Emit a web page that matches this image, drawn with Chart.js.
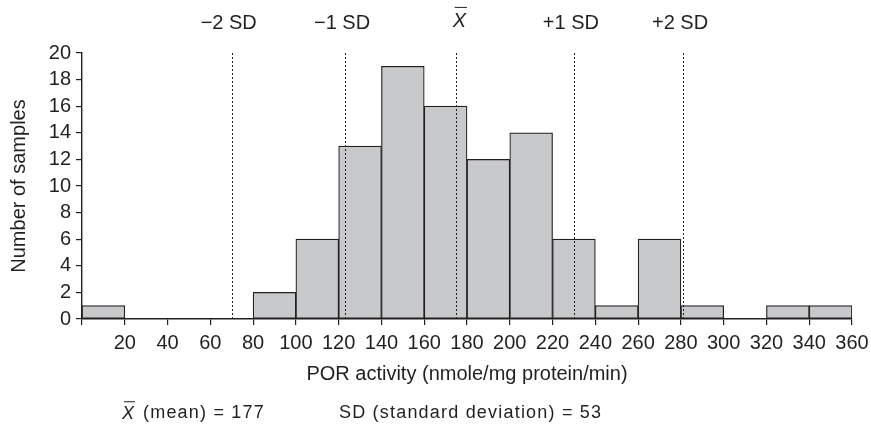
<!DOCTYPE html>
<html>
<head>
<meta charset="utf-8">
<script src="https://cdn.jsdelivr.net/npm/chart.js@4.4.1/dist/chart.umd.min.js"></script>
<style>
  html, body { margin: 0; padding: 0; background: #fff; overflow: hidden; }
  #wrap { width: 871px; height: 426px; position: relative; }
</style>
</head>
<body>
<div id="wrap"><canvas id="histo"></canvas></div>
<script>
// --- DONNEES ---
const binStarts = [0, 20, 40, 60, 80, 100, 120, 140, 160, 180, 200, 220, 240, 260, 280, 300, 320, 340];
const counts    = [1, 0, 0, 0, 2, 6, 13, 19, 16, 12, 14, 6, 1, 6, 1, 0, 1, 1];
const BIN_WIDTH = 20;
const sdValues  = [70, 123, 175, 230, 281];
const sdLabels  = ['\u22122 SD', '\u22121 SD', 'X', '+1 SD', '+2 SD'];
const MEAN = 177;
const SD = 53;

const INK = '#231f20';
const FONT = '"Liberation Sans", Arial, Helvetica, sans-serif';

// X barre (italique + trait au dessus)
function drawXbar(ctx, x, y, size, align) {
    ctx.font = 'italic ' + size + 'px ' + FONT;
    ctx.textAlign = align; ctx.textBaseline = 'middle';
    ctx.fillText('X', x, y);
    const w = ctx.measureText('X').width;
    const left = align === 'center' ? x - w / 2 : x;
    ctx.beginPath();
    ctx.lineWidth = 1;
    ctx.moveTo(left + 2, y - size * 0.68);
    ctx.lineTo(left + w + 1, y - size * 0.68);
    ctx.stroke();
    return w;
}

const sdPlugin = {
    id: 'sdLines',
    afterDatasetsDraw(chart) {
        const { ctx, chartArea, scales: { x, y } } = chart;
        ctx.save();
        ctx.strokeStyle = INK; ctx.fillStyle = INK;
        ctx.lineWidth = 1;
        ctx.setLineDash([2, 2]);
        sdValues.forEach(v => {
            const px = Math.round(x.getPixelForValue(v)) + 0.5;
            ctx.beginPath();
            ctx.moveTo(px, chartArea.top);
            ctx.lineTo(px, y.getPixelForValue(0));
            ctx.stroke();
        });
        ctx.setLineDash([]);

        // étiquettes du haut
        sdValues.forEach((v, i) => {
            const px = x.getPixelForValue(v);
            if (sdLabels[i] === 'X') {
                drawXbar(ctx, px + 3, 21, 20, 'center');
            } else {
                ctx.font = '20px ' + FONT;
                ctx.textAlign = 'center'; ctx.textBaseline = 'middle';
                ctx.fillText(sdLabels[i], px - 3, 23);
            }
        });

        // légende du bas
        drawXbar(ctx, 122, 414, 18, 'left');
        ctx.font = '18px ' + FONT;
        ctx.letterSpacing = '1.2px';
        ctx.textAlign = 'left'; ctx.textBaseline = 'middle';
        ctx.fillText('(mean) = ' + MEAN, 143, 413);
        ctx.fillText('SD (standard deviation) = ' + SD, 339, 413);
        ctx.letterSpacing = '0px';
        ctx.restore();
    }
};

const ctx = document.getElementById('histo').getContext('2d');
new Chart(ctx, {
    type: 'bar',
    data: {
        datasets: [{
            data: binStarts.map((s, i) => ({ x: s + BIN_WIDTH / 2, y: counts[i] })),
            backgroundColor: '#c8c9cb',
            borderColor: INK,
            borderWidth: 1.2,
            borderSkipped: false,
            barPercentage: 1,
            categoryPercentage: 1
        }]
    },
    options: {
        responsive: true, maintainAspectRatio: false, animation: false,
        layout: { padding: { left: 0, right: 19, top: 53, bottom: 0 } },
        plugins: { legend: { display: false }, tooltip: { enabled: false } },
        scales: {
            x: {
                type: 'linear', min: 0, max: 360, offset: false,
                afterFit: s => { s.height = 107; s.paddingLeft = 0; s.paddingRight = 0; },
                grid: { drawOnChartArea: false, offset: false, tickLength: 6, color: INK, lineWidth: 1.2 },
                border: { color: INK, width: 1.4 },
                ticks: {
                    stepSize: 20, color: INK, padding: 6,
                    font: { family: FONT, size: 20, lineHeight: 1.2 },
                    maxRotation: 0, autoSkip: false,
                    callback: v => v === 0 ? '' : v
                },
                title: {
                    display: true, text: 'POR activity (nmole/mg protein/min)', color: INK,
                    font: { family: FONT, size: 20, lineHeight: 1.2 },
                    padding: { top: 0, bottom: 40 }
                }
            },
            y: {
                min: 0, max: 20,
                afterFit: s => { s.width = 82; },
                grid: { drawOnChartArea: false, tickLength: 6, color: INK, lineWidth: 1.2 },
                border: { color: INK, width: 1.4 },
                ticks: {
                    stepSize: 2, color: INK, padding: 5, autoSkip: false,
                    font: { family: FONT, size: 20, lineHeight: 1.2 }
                },
                title: {
                    display: true, text: 'Number of samples', color: INK,
                    font: { family: FONT, size: 20, lineHeight: 1.2 },
                    padding: { top: 7, bottom: 0 }
                }
            }
        }
    },
    plugins: [sdPlugin]
});
</script>
</body>
</html>
